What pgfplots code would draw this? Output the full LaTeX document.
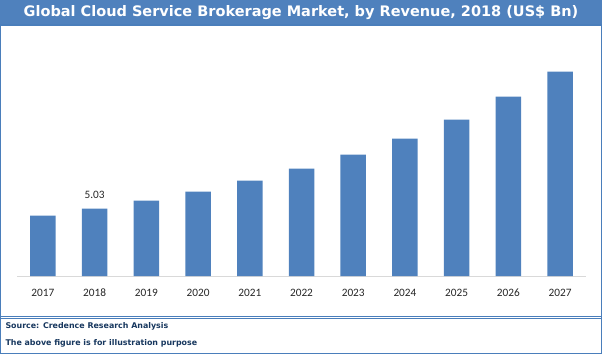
\documentclass[border=0pt]{standalone}
\usepackage{pgfplots}
\pgfplotsset{compat=1.18}
\usepackage{fontspec}
\setmainfont{Carlito}
\newfontfamily\titlefont{DejaVu Sans}
\definecolor{barblue}{HTML}{4F81BD}
\definecolor{framebl}{HTML}{4A7EBB}
\definecolor{navy}{HTML}{17375E}
\begin{document}
\begin{tikzpicture}[x=1pt,y=1pt]
\useasboundingbox (0,0) rectangle (602,354);
% title bar
\fill[barblue] (0,329) rectangle (602,354);
\node[text=white, font=\titlefont\bfseries\fontsize{14.5}{16}\selectfont] at (301,341) {Global Cloud Service Brokerage Market, by Revenue, 2018 (US\$ Bn)};
% frame
\draw[framebl, line width=1.2] (0.6,0.6) rectangle (601.4,329);
\draw[framebl, line width=1] (0,38) -- (602,38);
\draw[framebl, line width=1] (0,36) -- (602,36);
\node[anchor=west, text=navy, font=\titlefont\bfseries\fontsize{7.9}{10}\selectfont] at (2,27.5) {Source: Credence Research Analysis};
\node[anchor=west, text=navy, font=\titlefont\bfseries\fontsize{7.9}{10}\selectfont] at (2,10.5) {The above figure is for illustration purpose};
\begin{axis}[
  at={(17pt,78pt)}, anchor=south west,
  scale only axis, width=569pt, height=220.8pt,
  xmin=-0.5, xmax=10.5, ymin=0, ymax=16.5,
  axis x line*=bottom, axis y line=none,
  x axis line style={draw=black!15, line width=1},
  xtick=data,
  xticklabels={2017,2018,2019,2020,2021,2022,2023,2024,2025,2026,2027},
  major tick length=0pt,
  xticklabel style={font=\fontsize{11.3}{13}\selectfont, text=black!85, anchor=base, yshift=-20pt},
  ybar, bar width=25.5pt,
  clip=false,
]
\addplot[fill=barblue, draw=none] coordinates {
(0,4.51) (1,5.03) (2,5.63) (3,6.30) (4,7.12) (5,8.02) (6,9.07) (7,10.26) (8,11.68) (9,13.40) (10,15.27)};
\node[font=\fontsize{11.3}{13}\selectfont, text=black!85] at (axis cs:1,5.03) [yshift=14pt] {5.03};
\end{axis}
\end{tikzpicture}
\end{document}
